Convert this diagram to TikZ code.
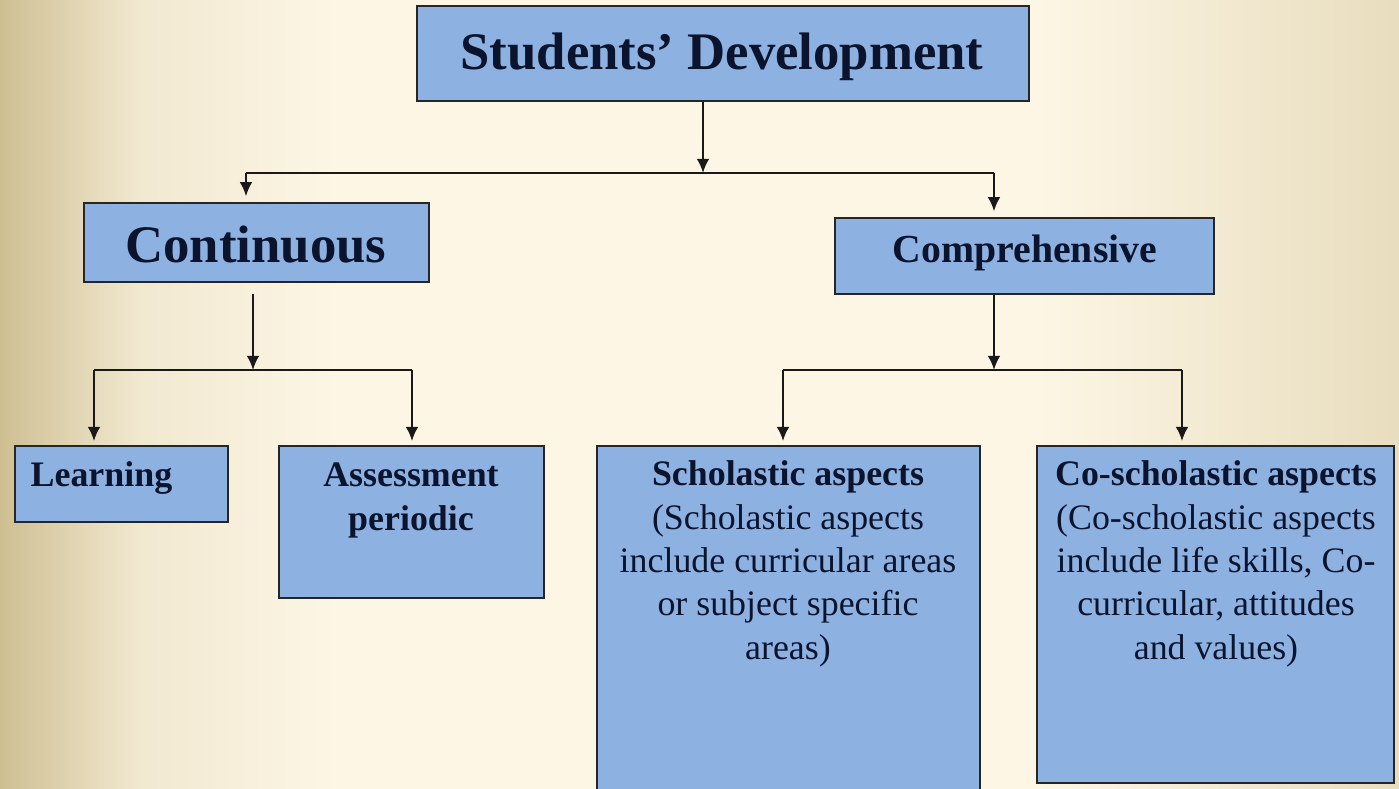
\documentclass[tikz,border=0pt]{standalone}
\usepackage{fontspec}
\setmainfont{Liberation Serif}
\usepackage{xcolor}
\usetikzlibrary{arrows.meta,fit}

\definecolor{boxblue}{RGB}{141,178,226}
\definecolor{inkblue}{RGB}{12,20,45}
\definecolor{tanL}{RGB}{206,191,146}
\definecolor{creamM}{RGB}{253,246,229}
\definecolor{tanR}{RGB}{232,221,190}

\pgfdeclarehorizontalshading{bgfade}{100bp}{color(0bp)=(tanL); color(25bp)=(tanL); color(30bp)=(creamM!75!tanL); color(37bp)=(creamM); color(62bp)=(creamM); color(75bp)=(tanR); color(100bp)=(tanR)}

\tikzset{
  box/.style={draw=black!85, line width=0.8pt, fill=boxblue, inner sep=0pt},
  link/.style={line width=0.65pt, black!90},
  arr/.style={link, -{Latex[length=4pt,width=3.6pt]}},
  bigtxt/.style={font=\fontsize{15}{18}\selectfont\bfseries, text=inkblue, inner sep=0pt, anchor=base},
  midtxt/.style={font=\fontsize{11.3}{14}\selectfont\bfseries, text=inkblue, inner sep=0pt, anchor=base},
  smalltxt/.style={font=\fontsize{10.2}{12.3}\selectfont, text=inkblue, inner sep=0pt, anchor=base}
}

\begin{document}
\begin{tikzpicture}[x=0.01cm, y=-0.01cm]

\shade[shading=bgfade] (0,0) rectangle (1399,789);
\useasboundingbox (0,0) rectangle (1399,789);

% boxes
\node[box, fit={(417,6) (1029,101)}] (sd) {};
\node[box, fit={(84,203) (429,282)}] (cont) {};
\node[box, fit={(835,218) (1214,294)}] (comp) {};
\node[box, fit={(15,446) (228,522)}] (learn) {};
\node[box, fit={(279,446) (544,598)}] (assess) {};
\node[box, fit={(597,446) (980,800)}] (schol) {};
\node[box, fit={(1037,446) (1394,783)}] (cosch) {};

% texts
\node[bigtxt] (sd-t) at (722,70) {Students’ Development};
\node[bigtxt] (cont-t) at (256,263) {Continuous};
\node[midtxt] (comp-t) at (1025,263) {Comprehensive};
\node[smalltxt, anchor=base west] (learn-t) at (30,487) {\bfseries Learning};
\node[smalltxt] (assess-t) at (411,487) {\parbox[t]{80pt}{\centering\bfseries Assessment\\periodic}};
\node[smalltxt] (schol-t) at (788,486) {\parbox[t]{106pt}{\centering
  \textbf{Scholastic aspects}\\
  (Scholastic aspects\\
  include curricular areas\\
  or subject specific\\
  areas)}};
\node[smalltxt] (cosch-t) at (1216,486) {\parbox[t]{100pt}{\centering
  \textbf{Co-scholastic aspects}\\
  (Co-scholastic aspects\\
  include life skills, Co-\\
  curricular, attitudes\\
  and values)}};

% connectors
\coordinate (top-mid) at (703,173);
\coordinate (top-l) at (246,173);
\coordinate (top-r) at (994,173);
\coordinate (cont-mid) at (253,370);
\coordinate (cont-l) at (94,370);
\coordinate (cont-r) at (412,370);
\coordinate (comp-mid) at (994,370);
\coordinate (comp-l) at (783,370);
\coordinate (comp-r) at (1182,370);

\draw[arr] (sd.south -| top-mid) -- (top-mid);
\draw[link] (top-l) -- (top-r);
\draw[arr, shorten >=1.5pt] (top-l) -- (top-l |- cont.north);
\draw[arr, shorten >=1.5pt] (top-r) -- (top-r |- comp.north);

\draw[arr, shorten <=3pt] (cont.south -| cont-mid) -- (cont-mid);
\draw[link] (cont-l) -- (cont-r);
\draw[arr, shorten >=1pt] (cont-l) -- (cont-l |- learn.north);
\draw[arr, shorten >=1pt] (cont-r) -- (cont-r |- assess.north);

\draw[arr] (comp.south -| comp-mid) -- (comp-mid);
\draw[link] (comp-l) -- (comp-r);
\draw[arr, shorten >=1pt] (comp-l) -- (comp-l |- schol.north);
\draw[arr, shorten >=1pt] (comp-r) -- (comp-r |- cosch.north);

\end{tikzpicture}
\end{document}
